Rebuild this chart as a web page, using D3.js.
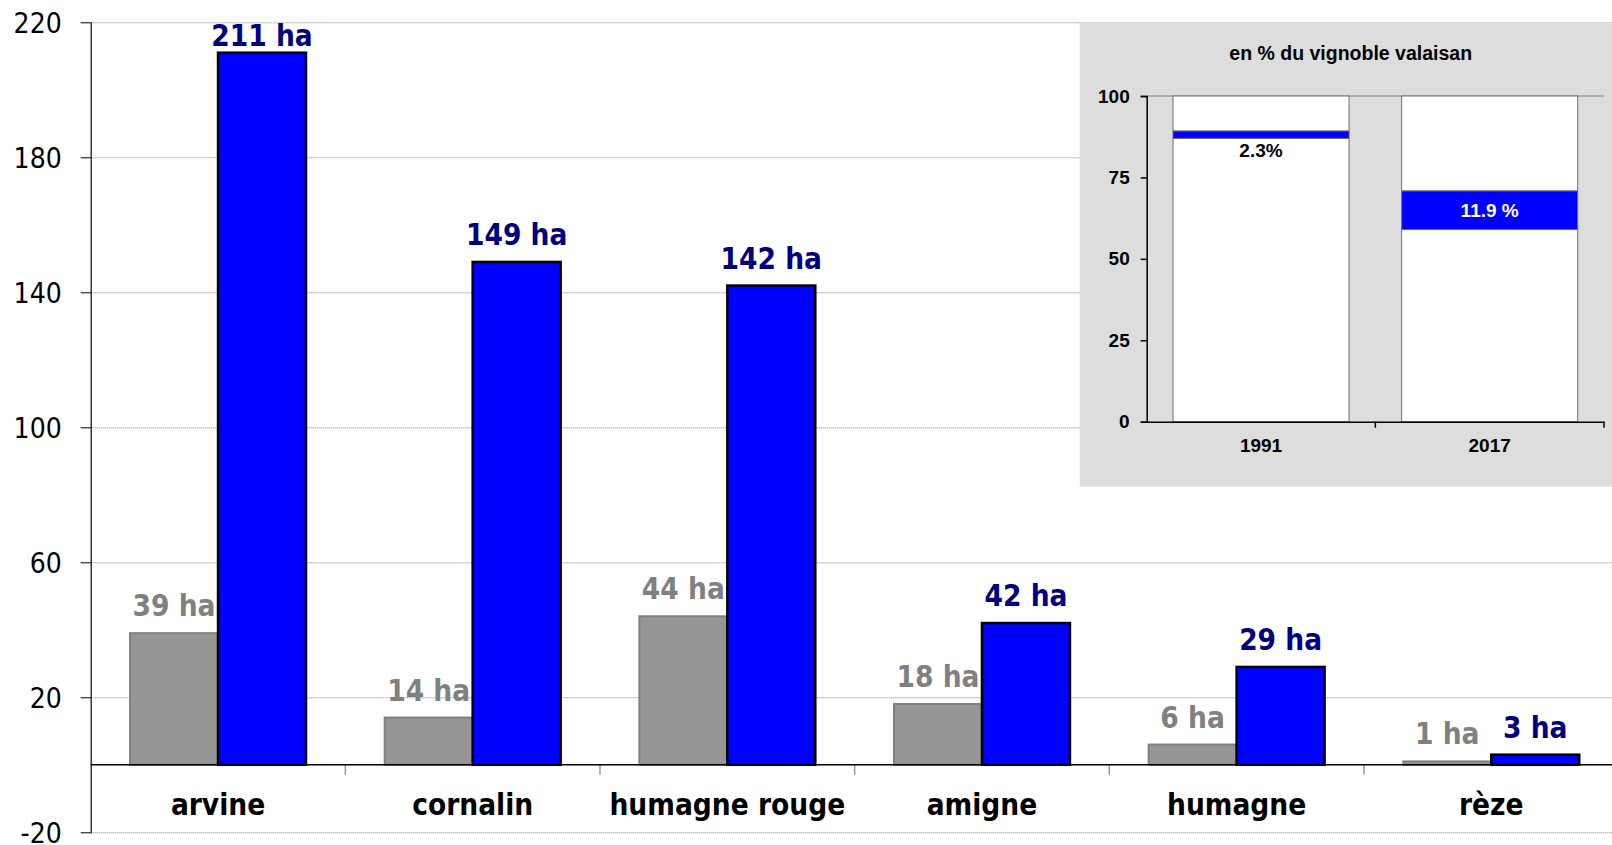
<!DOCTYPE html>
<html>
<head>
<meta charset="utf-8">
<script src="https://cdn.jsdelivr.net/npm/d3@7"></script>
<style>
  html, body { margin: 0; padding: 0; background: #fff; }
  svg { display: block; }
  .main-font { font-family: "DejaVu Sans Condensed", "DejaVu Sans", sans-serif; font-stretch: condensed; }
  .inset-font { font-family: "Liberation Sans", Arial, sans-serif; font-weight: bold; }
</style>
</head>
<body>
<svg id="chart" width="1612" height="845"></svg>
<script>
// categories and series (hectares)
var cepages = ["arvine", "cornalin", "humagne rouge", "amigne", "humagne", "rèze"];
var years = ["1991", "2017"];
var ha1991 = [39, 14, 44, 18, 6, 1];
var ha2017 = [211, 149, 142, 42, 29, 3];
var yTicks = [-20, 20, 60, 100, 140, 180, 220];

// inset: share of the Valais vineyard (%)
var insetYears = ["1991", "2017"];
var insetBelow = [87.0, 59.0];   // white part under the blue band
var insetShare = [2.3, 11.9];    // blue band
var insetShareLabels = ["2.3%", "11.9 %"];
var insetTicks = [0, 25, 50, 75, 100];
var insetTitle = "en % du vignoble valaisan";

var svg = d3.select("#chart");

// margins / plot box
var plot = {left: 90.7, right: 1618.6, top: 22.3, bottom: 832.3};

// scales
var x0 = d3.scaleBand().domain(cepages).range([plot.left, plot.right])
    .paddingInner(0.309).paddingOuter(0.1545);
var x1 = d3.scaleBand().domain(years).range([0, x0.bandwidth()]);
var y = d3.scaleLinear().domain([-20, 220]).range([plot.bottom, plot.top]);

// dotted gridlines
svg.append("g").selectAll("line")
    .data(yTicks)
    .enter().append("line")
    .attr("x1", plot.left).attr("x2", 1612)
    .attr("y1", function(d) { return y(d) + 0.5; })
    .attr("y2", function(d) { return y(d) + 0.5; })
    .style("stroke", "#808080")
    .style("stroke-width", 1)
    .style("stroke-dasharray", "1,1");

// y axis (plain hyphen for negatives, like the original)
var yAxis = d3.axisLeft(y).tickValues(yTicks).tickSize(10).tickPadding(19)
    .tickFormat(function(d) { return String(d); });
var gy = svg.append("g")
    .attr("class", "main-font")
    .attr("transform", "translate(" + plot.left + ",0)")
    .call(yAxis);
gy.select(".domain").remove();
gy.selectAll(".tick line").style("stroke", "#000");
gy.selectAll(".tick text")
    .attr("font-size", 28).attr("fill", "#000")
    .attr("font-family", "'DejaVu Sans Condensed', 'DejaVu Sans', sans-serif")
    .attr("dy", "0.36em");
svg.append("line")
    .attr("x1", plot.left + 0.5).attr("x2", plot.left + 0.5)
    .attr("y1", plot.top).attr("y2", plot.bottom + 1)
    .style("stroke", "#000").style("stroke-width", 1.2);

// category separators under the zero line
var step = x0.step();
svg.append("g").selectAll("line")
    .data(cepages.slice(1))
    .enter().append("line")
    .attr("x1", function(d) { return x0(d) - step * x0.paddingInner() / 2; })
    .attr("x2", function(d) { return x0(d) - step * x0.paddingInner() / 2; })
    .attr("y1", y(0)).attr("y2", y(0) + 10)
    .style("stroke", "#999").style("stroke-width", 1.5);

// bars
var rows = cepages.map(function(c, i) {
    return {cat: c, vals: [{year: "1991", v: ha1991[i]}, {year: "2017", v: ha2017[i]}]};
});

var groups = svg.append("g").selectAll("g")
    .data(rows)
    .enter().append("g")
    .attr("transform", function(d) { return "translate(" + x0(d.cat) + ",0)"; });

groups.selectAll("rect")
    .data(function(d) { return d.vals; })
    .enter().append("rect")
    .attr("x", function(d) { return x1(d.year); })
    .attr("y", function(d) { return y(d.v); })
    .attr("width", x1.bandwidth())
    .attr("height", function(d) { return y(0) - y(d.v); })
    .style("fill", function(d) { return d.year === "1991" ? "#969696" : "#0000ff"; })
    .style("stroke", function(d) { return d.year === "1991" ? "#808080" : "#000"; })
    .style("stroke-width", function(d) { return d.year === "1991" ? 2 : 2.5; });

// zero line
svg.append("line")
    .attr("x1", plot.left).attr("x2", 1612)
    .attr("y1", y(0)).attr("y2", y(0))
    .style("stroke", "#000").style("stroke-width", 1.5);

// value labels
groups.selectAll("text.val")
    .data(function(d) { return d.vals; })
    .enter().append("text")
    .attr("class", "val main-font")
    .attr("x", function(d) { return x1(d.year) + x1.bandwidth() / 2; })
    .attr("y", function(d) { return Math.max(y(d.v) - 17, 46); })
    .attr("text-anchor", "middle")
    .attr("font-size", 29.5)
    .attr("font-weight", "bold")
    .attr("fill", function(d) { return d.year === "1991" ? "#808080" : "#000080"; })
    .text(function(d) { return d.v + " ha"; });

// category labels
svg.append("g").selectAll("text")
    .data(cepages)
    .enter().append("text")
    .attr("class", "main-font")
    .attr("x", function(d) { return x0(d) + x0.bandwidth() / 2; })
    .attr("y", 815)
    .attr("text-anchor", "middle")
    .attr("font-size", 29.5)
    .attr("font-weight", "bold")
    .attr("fill", "#000")
    .text(function(d) { return d; });

// ---------- inset ----------
var panel = {x: 1079.7, y: 23.3, w: 540, h: 463.4};
var inset = svg.append("g").attr("class", "inset-font");

inset.append("rect")
    .attr("x", panel.x).attr("y", panel.y)
    .attr("width", panel.w).attr("height", panel.h)
    .style("fill", "#dddddd");

inset.append("text")
    .attr("x", 1350.7).attr("y", 60)
    .attr("text-anchor", "middle")
    .attr("font-size", 19.5)
    .attr("fill", "#000")
    .text(insetTitle);

var xi = d3.scaleBand().domain(insetYears).range([1146.7, 1604])
    .paddingInner(0.23).paddingOuter(0.115);
var yi = d3.scaleLinear().domain([0, 100]).range([421.7, 96]);

// plot top border
inset.append("line")
    .attr("x1", 1146.7).attr("x2", 1604)
    .attr("y1", yi(100)).attr("y2", yi(100))
    .style("stroke", "#808080").style("stroke-width", 1);

// stacked segments
var segs = [];
insetYears.forEach(function(yr, i) {
    var a = insetBelow[i], b = a + insetShare[i];
    segs.push({year: yr, y0: 0, y1: a, blue: false});
    segs.push({year: yr, y0: a, y1: b, blue: true});
    segs.push({year: yr, y0: b, y1: 100, blue: false});
});

inset.append("g").selectAll("rect")
    .data(segs)
    .enter().append("rect")
    .attr("x", function(d) { return xi(d.year); })
    .attr("y", function(d) { return yi(d.y1); })
    .attr("width", xi.bandwidth())
    .attr("height", function(d) { return yi(d.y0) - yi(d.y1); })
    .style("fill", function(d) { return d.blue ? "#0000ff" : "#ffffff"; })
    .style("stroke", "#707070")
    .style("stroke-width", 1);

// share labels
inset.append("g").selectAll("text")
    .data(insetYears)
    .enter().append("text")
    .attr("x", function(d) { return xi(d) + xi.bandwidth() / 2; })
    .attr("y", function(d, i) {
        return i === 0 ? yi(insetBelow[i]) + 19
                       : yi(insetBelow[i] + insetShare[i] / 2) + 7;
    })
    .attr("text-anchor", "middle")
    .attr("font-size", 19)
    .attr("fill", function(d, i) { return i === 0 ? "#000" : "#fff"; })
    .text(function(d, i) { return insetShareLabels[i]; });

// inset axes
var yiAxis = d3.axisLeft(yi).tickValues(insetTicks).tickSize(6).tickPadding(11);
var giy = inset.append("g")
    .attr("transform", "translate(1146.7,0)")
    .call(yiAxis);
giy.selectAll("path, line").style("stroke", "#000").style("stroke-width", 1.5);
giy.selectAll("text")
    .attr("font-size", 19).attr("fill", "#000")
    .attr("font-family", "'Liberation Sans', Arial, sans-serif")
    .attr("font-weight", "bold");

var xiAxis = d3.axisBottom(xi).tickSize(0).tickPadding(0);
var gix = inset.append("g")
    .attr("transform", "translate(0," + yi(0) + ")")
    .call(xiAxis);
gix.select(".domain").style("stroke", "#000").style("stroke-width", 1.5);
gix.selectAll("text")
    .attr("y", 30)
    .attr("dy", 0)
    .attr("font-size", 19).attr("fill", "#000")
    .attr("font-family", "'Liberation Sans', Arial, sans-serif")
    .attr("font-weight", "bold");
gix.selectAll(".boundary")
    .data([1146.7 + xi.step() * (1 + xi.paddingOuter() - xi.paddingInner() / 2) , 1604])
    .enter().append("line")
    .attr("x1", function(d) { return d; }).attr("x2", function(d) { return d; })
    .attr("y1", 0).attr("y2", 6)
    .style("stroke", "#000").style("stroke-width", 1.5);
</script>
</body>
</html>
